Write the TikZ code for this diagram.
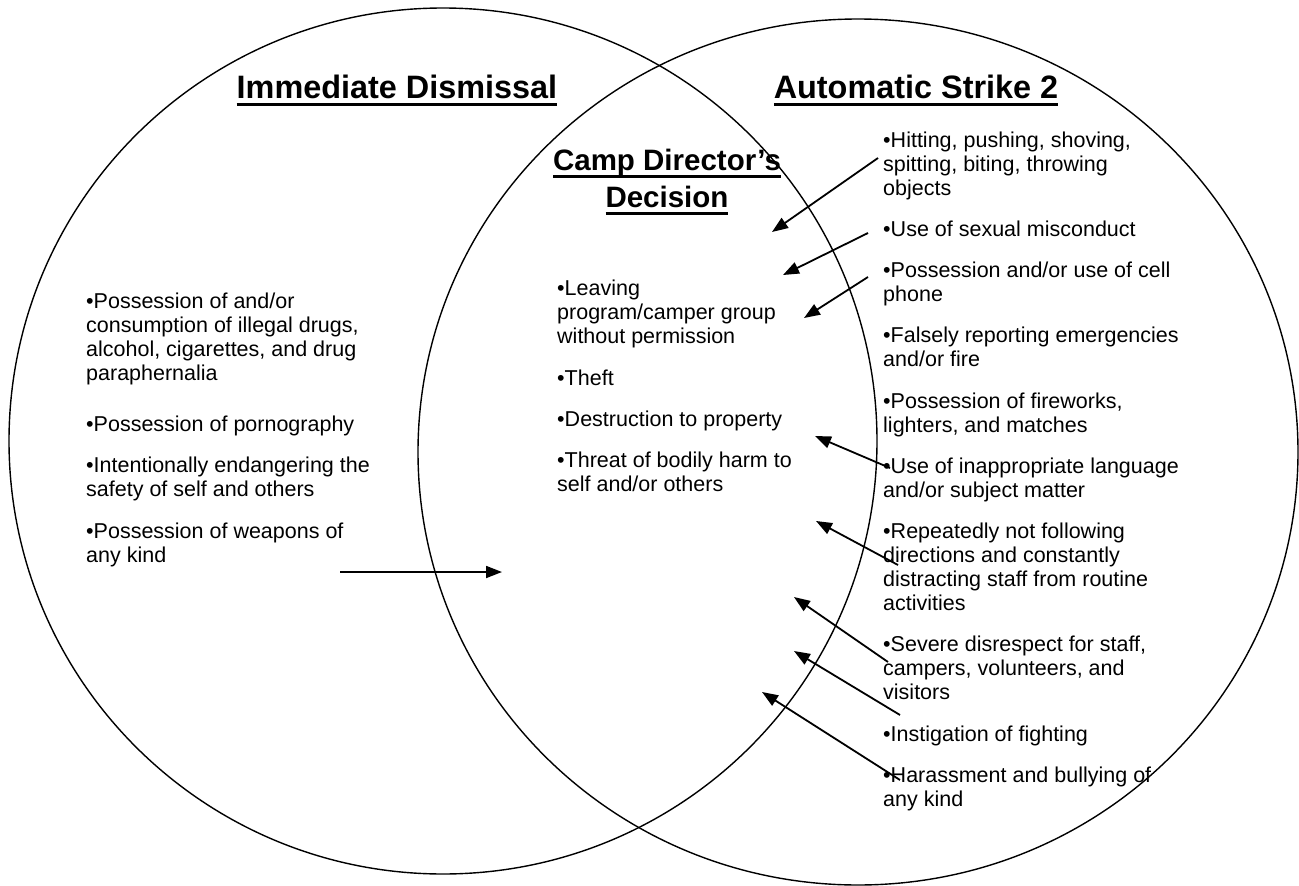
\documentclass[tikz,border=0pt]{standalone}
\usepackage{fontspec}
\setmainfont{Liberation Sans}
\usepackage{tikz}
\usetikzlibrary{arrows.meta}
\newcommand{\txfont}{\fontsize{21.5}{24}\selectfont}
\newcommand{\hdfont}{\fontsize{32.4}{38}\selectfont\bfseries}
\newcommand{\midfont}{\fontsize{29.5}{35}\selectfont\bfseries}
% heading text with a heavy rule under it
\newcommand{\hdline}[1]{\setbox0\hbox{#1}\rlap{\rule[-7.5pt]{\wd0}{3pt}}\box0}
\tikzset{
  ring/.style={line width=1.4pt},
  entry/.style={anchor=north west, align=left, inner sep=0pt, font=\txfont},
  heading/.style={anchor=base, inner sep=0pt, font=\hdfont},
  pointer/.style={-{Triangle[length=16pt,width=12pt]}, line width=1.8pt}
}

\begin{document}
\begin{tikzpicture}[x=1pt, y=-1pt]
  \useasboundingbox (0,0) rectangle (1299,886);

  % the two sets
  \draw[ring] (443,441) ellipse [x radius=434pt, y radius=433pt];
  \draw[ring] (858,452) ellipse [x radius=440pt, y radius=433pt];

  % headings
  \node[heading] (dismiss) at (397,98) {\hdline{Immediate Dismissal}};
  \node[heading] (strike) at (916,98) {\hdline{Automatic Strike 2}};
  \node[heading, font=\midfont] (camp) at (667,170) {\hdline{Camp Director’s}};
  \node[heading, font=\midfont] (decide) at (667,207) {\hdline{Decision}};

  % immediate dismissal
  \node[entry] (drugs) at (86,291) {\strut•Possession of and/or\\consumption of illegal drugs,\\alcohol, cigarettes, and drug\\paraphernalia};
  \node[entry] (porn) at (86,414) {\strut•Possession of pornography};
  \node[entry] (danger) at (86,455) {\strut•Intentionally endangering the\\safety of self and others};
  \node[entry] (weapons) at (86,521) {\strut•Possession of weapons of\\any kind};

  % camp director's decision
  \node[entry] (leave) at (557,278) {\strut•Leaving\\program/camper group\\without permission};
  \node[entry] (theft) at (557,368) {\strut•Theft};
  \node[entry] (destroy) at (557,409) {\strut•Destruction to property};
  \node[entry] (threat) at (557,450) {\strut•Threat of bodily harm to\\self and/or others};

  % automatic strike 2
  \node[entry] (hit) at (883,130) {\strut•Hitting, pushing, shoving,\\spitting, biting, throwing\\objects};
  \node[entry] (sexual) at (883,219) {\strut•Use of sexual misconduct};
  \node[entry] (phone) at (883,260) {\strut•Possession and/or use of cell\\phone};
  \node[entry] (false) at (883,325) {\strut•Falsely reporting emergencies\\and/or fire};
  \node[entry] (fire) at (883,391) {\strut•Possession of fireworks,\\lighters, and matches};
  \node[entry] (lang) at (883,456) {\strut•Use of inappropriate language\\and/or subject matter};
  \node[entry] (follow) at (883,521) {\strut•Repeatedly not following\\directions and constantly\\distracting staff from routine\\activities};
  \node[entry] (respect) at (883,634) {\strut•Severe disrespect for staff,\\campers, volunteers, and\\visitors};
  \node[entry] (fight) at (883,724) {\strut•Instigation of fighting};
  \node[entry] (bully) at (883,765) {\strut•Harassment and bullying of\\any kind};

  % arrow ends
  \coordinate (weapons-t) at (340,572);
  \coordinate (weapons-h) at (502,572);
  \coordinate (hit-t) at (878,158);
  \coordinate (hit-h) at (772,232);
  \coordinate (sexual-t) at (868,233);
  \coordinate (sexual-h) at (783,275);
  \coordinate (phone-t) at (868,277);
  \coordinate (phone-h) at (804,318);
  \coordinate (lang-t) at (890,468);
  \coordinate (lang-h) at (815,436);
  \coordinate (follow-t) at (898,565);
  \coordinate (follow-h) at (816,521);
  \coordinate (respect-t) at (888,662);
  \coordinate (respect-h) at (794,597);
  \coordinate (fight-t) at (900,715);
  \coordinate (fight-h) at (794,651);
  \coordinate (bully-t) at (900,780);
  \coordinate (bully-h) at (762,692);

  \draw[pointer] (weapons-t) -- (weapons-h);
  \draw[pointer] (hit-t) -- (hit-h);
  \draw[pointer] (sexual-t) -- (sexual-h);
  \draw[pointer] (phone-t) -- (phone-h);
  \draw[pointer] (lang-t) -- (lang-h);
  \draw[pointer] (follow-t) -- (follow-h);
  \draw[pointer] (respect-t) -- (respect-h);
  \draw[pointer] (fight-t) -- (fight-h);
  \draw[pointer] (bully-t) -- (bully-h);
\end{tikzpicture}
\end{document}
